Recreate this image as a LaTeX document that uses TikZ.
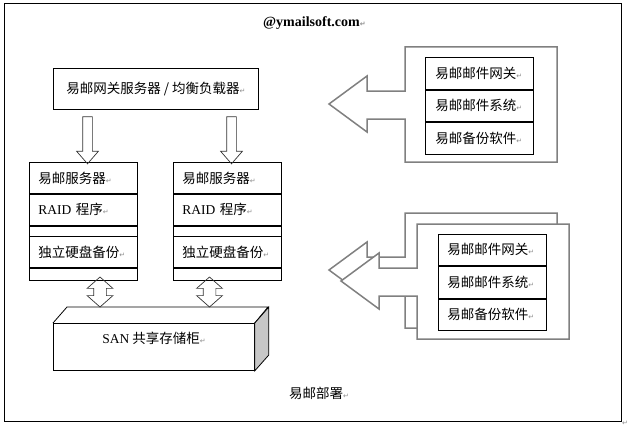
\documentclass[tikz,border=0pt]{standalone}
\usepackage{fontspec}
\setmainfont{Liberation Serif}
\newfontfamily\cjk{Noto Sans CJK SC}
\newfontfamily\dejavu{DejaVu Sans}
\usetikzlibrary{positioning,shapes.arrows}

\definecolor{callgray}{RGB}{128,128,128}
\newcommand{\pmk}{{\color{black!45}\dejavu\fontsize{7}{7}\selectfont ↵}}
\newcommand{\cjkfont}{\cjk\fontsize{13.5}{16}\selectfont}

\tikzset{
  cell/.style={draw, line width=.8pt, anchor=north west, minimum width=108,
    inner xsep=9pt, inner ysep=0pt, text width=90pt, align=left, font=\cjkfont},
  downarr/.style={single arrow, draw=black!80, line width=.7pt, rotate=-90,
    minimum height=47, inner xsep=0pt, inner ysep=4.5pt,
    single arrow head extend=6pt, single arrow tip angle=82},
  updown/.style={double arrow, draw=black!80, line width=.7pt, rotate=90,
    minimum height=30, inner xsep=0pt, inner ysep=6pt,
    double arrow head extend=6.5pt, double arrow tip angle=97},
  pics/callout/.style={code={
    \draw[draw=callgray, line width=1.5pt, fill=white, line join=miter]
      (0,0) -- (152,0) -- (152,115) -- (0,115) -- (0,72) -- (-38,72) -- (-38,85)
      -- (-76,57) -- (-38,29) -- (-38,44) -- (0,44) -- cycle;
  }}
}

\begin{document}
\begin{tikzpicture}[x=1pt,y=-1pt]
  \useasboundingbox (0,0) rectangle (628,428);
  \draw[line width=1pt] (4,4) rectangle (621,421);

  \node[anchor=west, inner xsep=0pt, font=\bfseries\fontsize{14}{16}\selectfont] (ttl) at (263,23) {@ymailsoft.com\pmk};

  % gateway
  \node[draw, line width=.8pt, anchor=north west, minimum width=205, minimum height=41,
    font=\cjkfont] (gw) at (53,68) {易邮网关服务器 / 均衡负载器\pmk};

  % two servers
  \foreach \s/\x in {l/29, r/173} {
    \node[cell, minimum height=31] (\s a) at (\x,162) {易邮服务器\pmk};
    \node[cell, minimum height=31, below=0pt of \s a] (\s b) {{\rmfamily RAID} 程序\pmk};
    \node[cell, minimum height=10, below=0pt of \s b] (\s c) {};
    \node[cell, minimum height=31, below=0pt of \s c] (\s d) {独立硬盘备份\pmk};
    \node[cell, minimum height=12, below=0pt of \s d] (\s e) {};
  }

  \node[downarr] (gl) at (87.5,137.5) {};
  \node[downarr] (gr) at (231.5,137.5) {};

  % storage
  \node[draw, line width=.8pt, anchor=north west, minimum width=201, minimum height=47] (san) at (53,323) {};
  \draw[line width=.8pt] (san.north west) -- ++(14,-16) -- ++(201,0) -- (san.north east);
  \draw[line width=.8pt, fill=black!22] (san.north east) -- ++(14,-16) -- ++(0,48) -- (san.south east) -- cycle;
  \node[font=\cjkfont] (sant) at (154,338) {{\rmfamily SAN} 共享存储柜\pmk};

  \node[updown] (ul) at (100,292) {};
  \node[updown] (ur) at (209.5,292) {};

  % software
  \pic at (405,47) {callout};
  \node[cell, minimum height=32, inner xsep=10pt, text width=88pt] (s1) at (425,57) {易邮邮件网关\pmk};
  \node[cell, minimum height=31, inner xsep=10pt, text width=88pt, below=0pt of s1] (s2) {易邮邮件系统\pmk};
  \node[cell, minimum height=32, inner xsep=10pt, text width=88pt, below=0pt of s2] (s3) {易邮备份软件\pmk};

  \pic at (405,213) {callout};
  \pic at (417,224) {callout};
  \node[cell, minimum height=31] (t1) at (438,234) {易邮邮件网关\pmk};
  \node[cell, minimum height=32, below=0pt of t1] (t2) {易邮邮件系统\pmk};
  \node[cell, minimum height=31, below=0pt of t2] (t3) {易邮备份软件\pmk};

  \node[anchor=west, inner xsep=0pt, font=\cjkfont] (cap) at (289,393) {易邮部署\pmk};
  \node[inner sep=0pt] (endmk) at (625,423) {\pmk};
\end{tikzpicture}
\end{document}
